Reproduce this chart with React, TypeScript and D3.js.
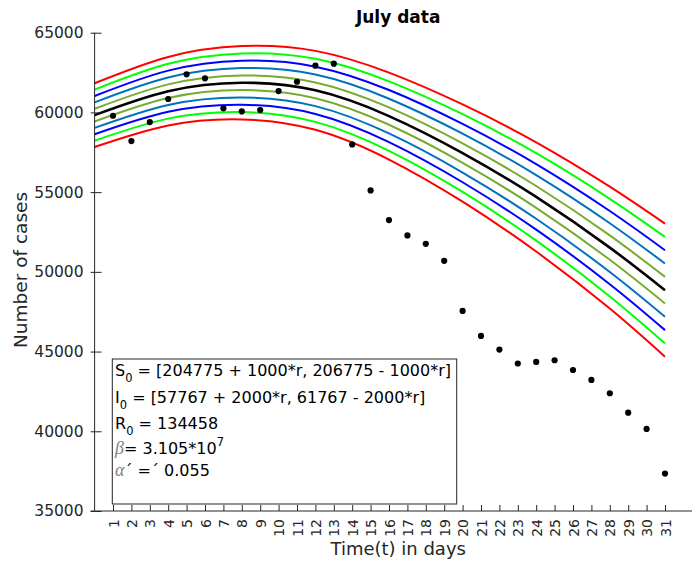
import React, { useRef, useEffect } from 'react';
import * as d3 from 'd3';

// observed cases, July
const days = [1, 2, 3, 4, 5, 6, 7, 8, 9, 10, 11, 12, 13, 14, 15, 16, 17, 18, 19, 20, 21, 22, 23, 24, 25, 26, 27, 28, 29, 30, 31];
const julyCases = [
  59790, 58200, 59395, 60840, 62390, 62140, 60255, 60065, 60150, 61340,
  61925, 62930, 63055, 57995, 55105, 53245, 52285, 51755, 50690, 47550,
  45980, 45125, 44250, 44350, 44455, 43845, 43220, 42385, 41170, 40145, 37345,
];

const yTicks = [35000, 40000, 45000, 50000, 55000, 60000, 65000];

// model runs, sampled along t
const modelTimes = [0, 4, 8, 12, 16, 20, 24, 28, 31];
const redUpper = [61830, 63480, 64160, 63860, 62495, 60500, 58125, 55345, 53025];
const greenUpper = [61430, 63050, 63700, 63365, 61950, 59890, 57440, 54580, 52190];
const blueUpper = [61030, 62620, 63240, 62870, 61405, 59280, 56755, 53815, 51355];
const steelUpper = [60630, 62190, 62780, 62375, 60860, 58670, 56070, 53050, 50520];
const oliveUpper = [60230, 61760, 62320, 61880, 60315, 58060, 55385, 52285, 49685];
const bestFit = [59830, 61330, 61860, 61385, 59770, 57450, 54700, 51520, 48850];
const oliveLower = [59430, 60900, 61400, 60890, 59225, 56840, 54015, 50755, 48015];
const steelLower = [59030, 60470, 60940, 60395, 58680, 56230, 53330, 49990, 47180];
const blueLower = [58630, 60040, 60480, 59900, 58135, 55620, 52645, 49225, 46345];
const greenLower = [58230, 59610, 60020, 59405, 57590, 55010, 51960, 48460, 45510];
const redLower = [57830, 59180, 59560, 58910, 57045, 54400, 51275, 47695, 44675];

const runs = [
  { values: redUpper, color: '#ff0000', w: 2 },
  { values: greenUpper, color: '#00ff00', w: 2 },
  { values: blueUpper, color: '#0000ff', w: 2 },
  { values: steelUpper, color: '#0072bd', w: 2 },
  { values: oliveUpper, color: '#77ac30', w: 2 },
  { values: oliveLower, color: '#77ac30', w: 2 },
  { values: steelLower, color: '#0072bd', w: 2 },
  { values: blueLower, color: '#0000ff', w: 2 },
  { values: greenLower, color: '#00ff00', w: 2 },
  { values: redLower, color: '#ff0000', w: 2 },
  { values: bestFit, color: '#000000', w: 2.6 },
];

const FONT = '"DejaVu Sans", sans-serif';

const App = () => {
  const ref = useRef<SVGSVGElement | null>(null);

  useEffect(() => {
    if (!ref.current) return;
    const svg = d3.select(ref.current);
    svg.selectAll('*').remove();

    // axes run a little past the right edge of the picture
    const x = d3.scaleLinear().domain([0, 33]).range([94.6, 701.8]);
    const y = d3.scaleLinear().domain([35000, 65000]).range([511, 32.7]);
    const midX = (x(0) + x(33)) / 2;

    // curves
    const line = d3.line<number>()
      .x((_, i) => x(modelTimes[i]))
      .y(d => y(d))
      .curve(d3.curveNatural);

    svg.append('g')
      .selectAll('path')
      .data(runs)
      .join('path')
      .attr('d', d => line(d.values))
      .attr('fill', 'none')
      .attr('stroke', d => d.color)
      .attr('stroke-width', d => d.w);

    // data points
    svg.append('g')
      .selectAll('circle')
      .data(days)
      .join('circle')
      .attr('cx', d => x(d))
      .attr('cy', (_, i) => y(julyCases[i]))
      .attr('r', 3.1)
      .attr('fill', '#000');

    // axes
    const yAxis = svg.append('g').attr('transform', `translate(${x(0)},0)`);
    yAxis.call(
      d3.axisLeft(y).tickValues(yTicks).tickSizeInner(-7).tickSizeOuter(0).tickPadding(11).tickFormat(d3.format('d'))
    );
    yAxis.selectAll('.tick line').clone().attr('x2', -4);
    yAxis.select('.domain').attr('d', `M0,${y(65000)}V${y(35000)}`);
    yAxis.selectAll('text').attr('font-size', 15.5).attr('font-family', FONT).attr('fill', '#262626');

    const xAxis = svg.append('g').attr('transform', `translate(0,${y(35000)})`);
    xAxis.call(
      d3.axisBottom(x).tickValues(days).tickSizeInner(-6).tickSizeOuter(0).tickFormat(d3.format('d'))
    );
    xAxis.select('.domain').attr('d', `M${x(0) - 4},0H692`);
    xAxis.selectAll('.tick text')
      .attr('font-size', 14)
      .attr('font-family', FONT)
      .attr('fill', '#262626')
      .attr('text-anchor', 'end')
      .attr('dy', null)
      .attr('y', 0)
      .attr('transform', 'translate(5,8) rotate(-90)');

    svg.selectAll('.domain, .tick line').attr('stroke', '#262626');

    // labels
    svg.append('text')
      .attr('x', midX).attr('y', 23)
      .attr('text-anchor', 'middle')
      .attr('font-family', FONT).attr('font-weight', 'bold').attr('font-size', 17)
      .text('July data');

    svg.append('text')
      .attr('x', midX).attr('y', 555)
      .attr('text-anchor', 'middle')
      .attr('font-family', FONT).attr('font-size', 18).attr('fill', '#262626')
      .text('Time(t) in days');

    svg.append('text')
      .attr('transform', 'translate(27,270) rotate(-90)')
      .attr('text-anchor', 'middle')
      .attr('font-family', FONT).attr('font-size', 18.5).attr('fill', '#262626')
      .text('Number of cases');

    // parameter box
    svg.append('rect')
      .attr('x', 112.3).attr('y', 359).attr('width', 344.4).attr('height', 145)
      .attr('fill', '#fff').attr('stroke', '#262626').attr('stroke-width', 1);

    const box = svg.append('g').attr('font-family', FONT).attr('font-size', 16).attr('fill', '#000');

    const sub = (t: any, main: string, rest: string) => {
      t.append('tspan').text(main);
      t.append('tspan').attr('dy', 6).attr('font-size', 11.5).text('0');
      t.append('tspan').attr('dy', -6).text(rest);
    };

    sub(box.append('text').attr('x', 115).attr('y', 376), 'S', ' = [204775 + 1000*r, 206775 - 1000*r]');
    sub(box.append('text').attr('x', 115).attr('y', 403), 'I', ' = [57767 + 2000*r, 61767 - 2000*r]');
    sub(box.append('text').attr('x', 115).attr('y', 429), 'R', ' = 134458');

    const beta = box.append('text').attr('x', 115).attr('y', 454);
    beta.append('tspan').attr('font-family', '"Liberation Serif", serif').attr('font-style', 'italic')
      .attr('fill', '#808080').attr('font-size', 18).text('β');
    beta.append('tspan').text('= 3.105*10');
    beta.append('tspan').attr('dy', -8).attr('font-size', 11.5).text('7');

    const alpha = box.append('text').attr('x', 115).attr('y', 476);
    alpha.append('tspan').attr('font-family', '"Liberation Serif", serif').attr('font-style', 'italic')
      .attr('fill', '#808080').attr('font-size', 18).text('α');
    alpha.append('tspan').text('´ =´ 0.055');
  }, []);

  return (
    <svg
      ref={ref}
      width={692}
      height={564}
      style={{ position: 'absolute', left: 0, top: 0, background: '#fff' }}
    />
  );
};

export default App;
